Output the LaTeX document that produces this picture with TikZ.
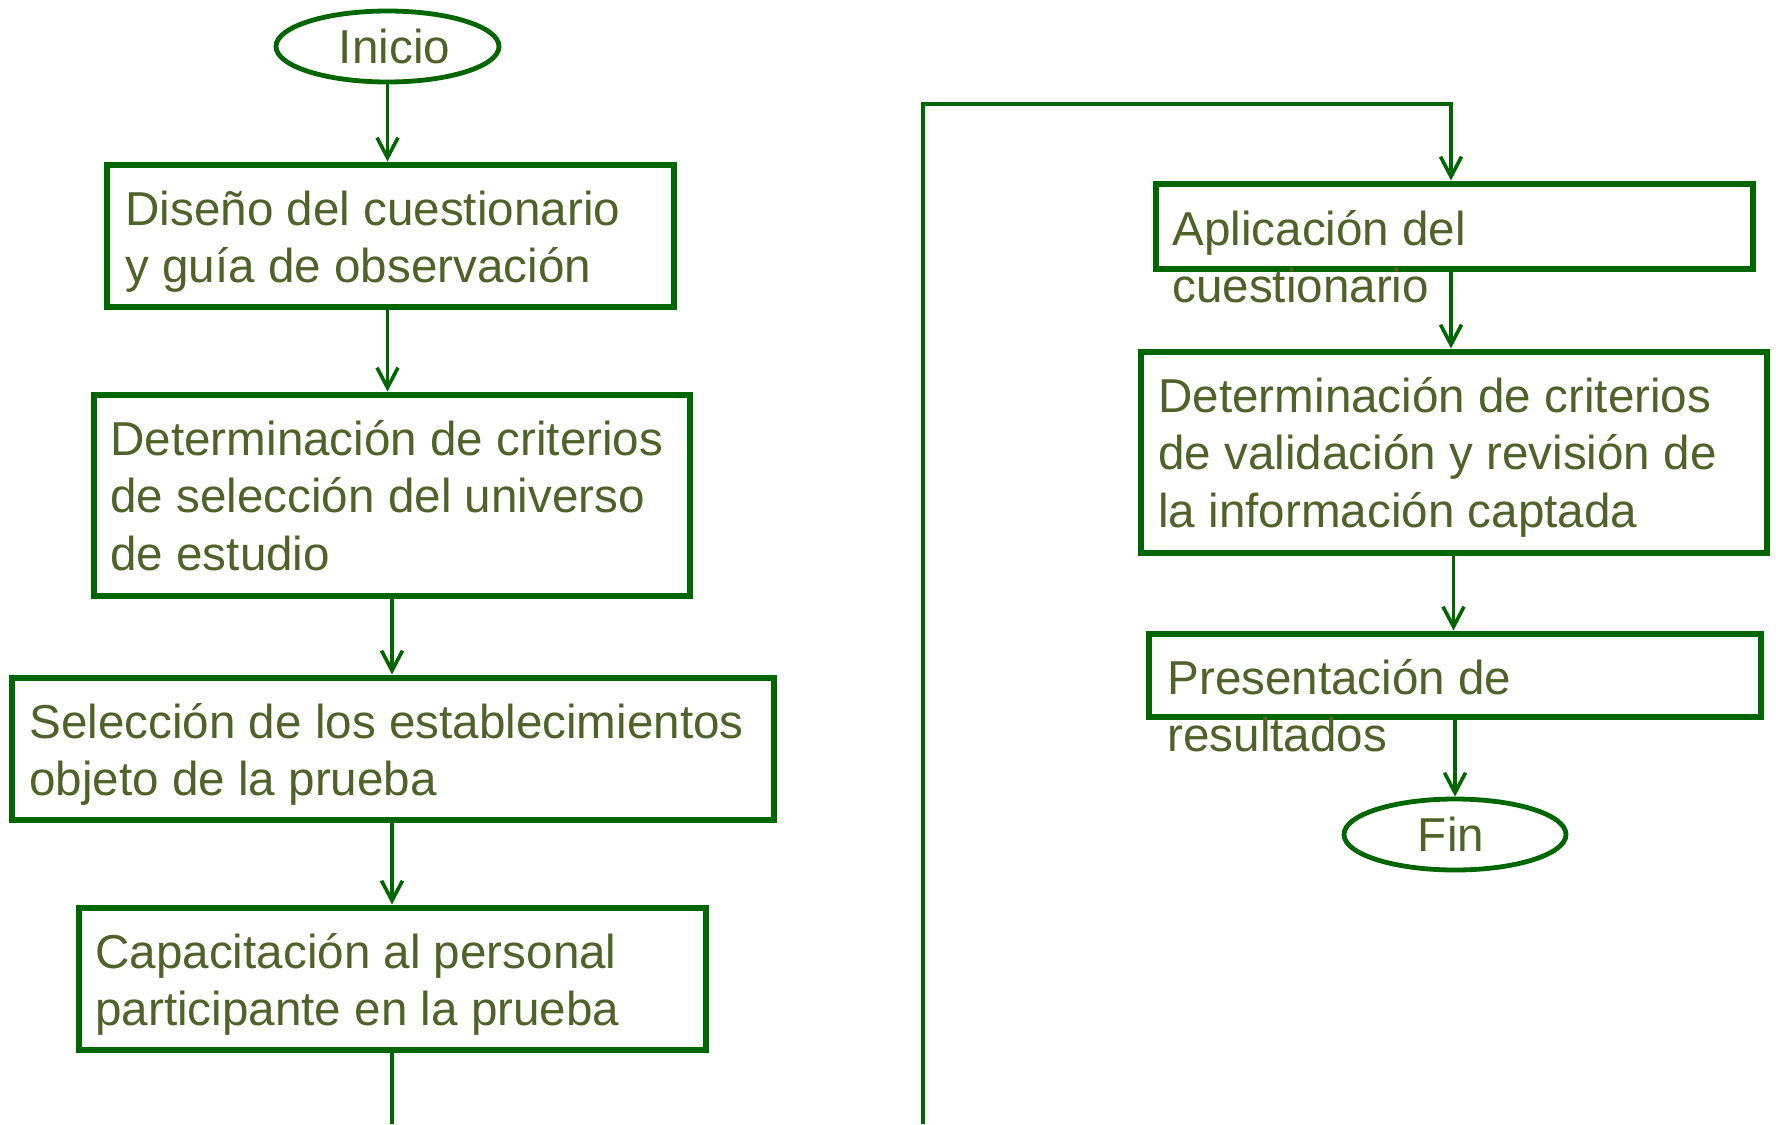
\documentclass[tikz,border=0pt]{standalone}
\usepackage{fontspec}
\setmainfont{Liberation Sans}
\usetikzlibrary{shapes.geometric,arrows.meta,calc}
\definecolor{verde}{HTML}{006600}
\definecolor{oliva}{HTML}{4F6228}

\begin{document}
\begin{tikzpicture}[x=0.5pt,y=-0.5pt,
        caja/.style={draw=verde,line width=3pt,rectangle,inner sep=0pt},
        elipse/.style={draw=verde,line width=2.4pt,ellipse,inner sep=0pt,text=oliva,font=\fontsize{23.8}{28.75}\selectfont},
        texto/.style={anchor=base west,align=left,inner sep=0pt,text=oliva,font=\fontsize{23.8}{28.75}\selectfont},
        flecha/.style={draw=verde,line width=1.8pt,-{Straight Barb[length=10pt,width=10.5pt]}},
        linea/.style={draw=verde,line width=1.8pt}]
        % Lienzo: 1776 x 1124 (y hacia abajo)
        \useasboundingbox (0,0) rectangle (1776,1124);

        % Columna izquierda
        \node[elipse,minimum width=111.5pt,minimum height=35.5pt] (inicio) at (387.5,46.5) {\kern7pt Inicio};
        \node[caja,minimum width=283.5pt,minimum height=71pt] (diseno) at (390,235.5) {};
        \node[caja,minimum width=298pt,minimum height=100.5pt] (criterios) at (391.5,495) {};
        \node[caja,minimum width=381pt,minimum height=71pt] (seleccion) at (392.5,748.5) {};
        \node[caja,minimum width=313.5pt,minimum height=71pt] (capacitacion) at (392,978.5) {};

        % el ancla base es la ultima linea del texto
        \node[texto] (t-diseno) at (125,282.5) {Diseño del cuestionario\\y guía de observación};
        \node[texto] (t-criterios) at (110,570) {Determinación de criterios\\de selección del universo\\de estudio};
        \node[texto] (t-seleccion) at (29,795.5) {Selección de los establecimientos\\objeto de la prueba};
        \node[texto] (t-capacitacion) at (95,1025.5) {Capacitación al personal\\participante en la prueba};

        % Columna derecha
        \node[caja,minimum width=298.5pt,minimum height=42.5pt] (aplicacion) at (1454,226) {};
        \node[caja,minimum width=313pt,minimum height=100.5pt] (validacion) at (1453.5,452) {};
        \node[caja,minimum width=306pt,minimum height=41.5pt] (presentacion) at (1454.5,675) {};
        \node[elipse,minimum width=111pt,minimum height=35.5pt] (fin) at (1455,834.5) {Fin\kern4pt};

        % el texto sale de la caja, como en el original
        \node[texto] (t-aplicacion) at (1172,302.5) {Aplicación del\\cuestionario};
        \node[texto] (t-validacion) at (1158,527) {Determinación de criterios\\de validación y revisión de\\la información captada};
        \node[texto] (t-presentacion) at (1167,751.5) {Presentación de\\resultados};

        % Conectores
        \draw[flecha] (inicio.south) -- (inicio.south |- diseno.north);
        \draw[flecha] (inicio.south |- diseno.south) -- (inicio.south |- criterios.north);
        \draw[flecha] (capacitacion.south |- criterios.south) -- (capacitacion.south |- seleccion.north);
        \draw[flecha] (capacitacion.south |- seleccion.south) -- (capacitacion.north);

        % Enlace entre columnas
        \coordinate (abajo) at (392,1124);
        \coordinate (sube) at (923,1124);
        \coordinate (codo) at (1451,104);
        \draw[linea] (capacitacion.south) -- (abajo);
        \draw[flecha] (sube) |- (codo) -- (codo |- aplicacion.north);

        \draw[flecha] (codo |- aplicacion.south) -- (codo |- validacion.north);
        \draw[flecha] (validacion.south) -- (validacion.south |- presentacion.north);
        \draw[flecha] (fin.north |- presentacion.south) -- (fin.north);
    \end{tikzpicture}
\end{document}
